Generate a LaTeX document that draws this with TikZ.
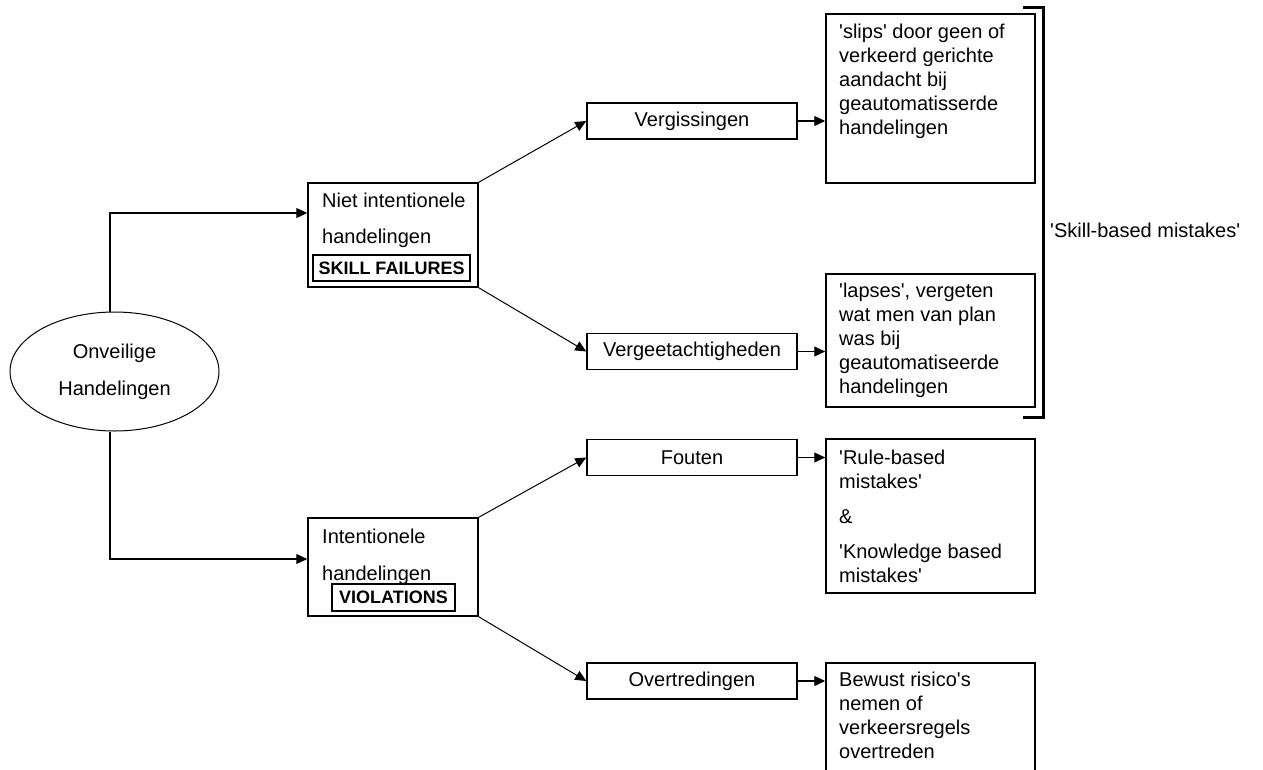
\documentclass[tikz,border=0pt]{standalone}
\usepackage{fontspec}
\setmainfont{Liberation Sans}
\usetikzlibrary{arrows.meta,shapes.geometric}
\newcommand{\sq}{\textquotesingle}
\begin{document}
\begin{tikzpicture}[x=1pt,y=-1pt,
  every node/.style={font=\fontsize{20}{24}\selectfont},
  box/.style={draw, line width=1.5pt, inner sep=0pt, rectangle},
  midbox/.style={box, minimum width=210pt, minimum height=36pt},
  bigbox/.style={box, minimum width=209pt},
  txt/.style={anchor=base west, inner sep=0pt, align=left},
  tag/.style={draw, line width=1.2pt, inner sep=0pt, font=\fontsize{18}{22}\selectfont\bfseries},
  arr/.style={-{Triangle[length=11pt,width=10pt]}, line width=1.2pt},
  diag/.style={arr, line width=1pt}
]
\useasboundingbox (0,0) rectangle (1263,769);
\fill[white] (0,0) rectangle (1263,769);

% root
\node[ellipse, draw, line width=1pt, minimum width=209pt, minimum height=119pt, inner sep=0pt, align=center] (ell) at (114.5,371.5) {Onveilige\\[13pt]Handelingen};

% second level
\node[box, minimum width=170pt, minimum height=104pt] (niet) at (393,235) {};
\node[txt] (niet1) at (322,207) {Niet intentionele};
\node[txt] (niet2) at (322,243) {handelingen};
\node[tag, minimum width=157pt, minimum height=26pt] (skill) at (391.5,268) {SKILL FAILURES};

\node[box, minimum width=170pt, minimum height=98pt] (intent) at (393,567) {};
\node[txt] (int1) at (322,543) {Intentionele};
\node[txt] (int2) at (322,580) {handelingen};
\node[tag, minimum width=123pt, minimum height=27pt] (viol) at (393.5,597.5) {VIOLATIONS};

% third level
\node[midbox] (verg) at (692,121) {Vergissingen};
\node[midbox] (vergeet) at (692,351.5) {Vergeetachtigheden};
\node[midbox] (fout) at (692,457.5) {Fouten};
\node[midbox] (overt) at (692,681) {Overtredingen};

% fourth level (base anchor = baseline of the last line)
\node[bigbox, minimum height=169pt] (slips) at (930.5,98.5) {};
\node[txt] (slipst) at (839,134) {\sq slips\sq{} door geen of\\verkeerd gerichte\\aandacht bij\\geautomatisserde\\handelingen};

\node[bigbox, minimum height=133pt] (lapses) at (930.5,340.5) {};
\node[txt] (lapsest) at (839,393) {\sq lapses\sq, vergeten\\wat men van plan\\was bij\\geautomatiseerde\\handelingen};

\node[bigbox, minimum height=154pt] (rule) at (930.5,516) {};
\node[txt] (rulet1) at (839,488) {\sq Rule-based\\mistakes\sq};
\node[txt] (ampt) at (839,523) {\&};
\node[txt] (rulet2) at (839,582) {\sq Knowledge based\\mistakes\sq};

\node[bigbox, minimum height=140pt] (bewust) at (930.5,733) {};
\node[txt] (bewustt) at (839,758) {Bewust risico\sq s\\nemen of\\verkeersregels\\overtreden};

% bracket
\coordinate (b1) at (1023,7);
\coordinate (b2) at (1043,7);
\coordinate (b3) at (1043,417);
\coordinate (b4) at (1023,417);
\draw[line width=3pt] (b1) -- (b2) -- (b3) -- (b4);
\node[anchor=west, inner sep=0pt] (sbm) at (1050,230) {\sq Skill-based mistakes\sq};

% connectors
\draw[arr] ([xshift=-4.5pt]ell.north) |- ([yshift=22pt]niet.west);
\draw[arr] ([xshift=-4.5pt]ell.south) |- ([yshift=8pt]intent.west);
\draw[diag] (niet.north east) -- (verg.west);
\draw[diag] (niet.south east) -- (vergeet.west);
\draw[diag] (intent.north east) -- (fout.west);
\draw[diag] (intent.south east) -- (overt.west);
\draw[arr] (verg.east) -- (verg.east -| slips.west);
\draw[arr] (vergeet.east) -- (vergeet.east -| lapses.west);
\draw[arr] (fout.east) -- (fout.east -| rule.west);
\draw[arr] (overt.east) -- (overt.east -| bewust.west);
\end{tikzpicture}
\end{document}
